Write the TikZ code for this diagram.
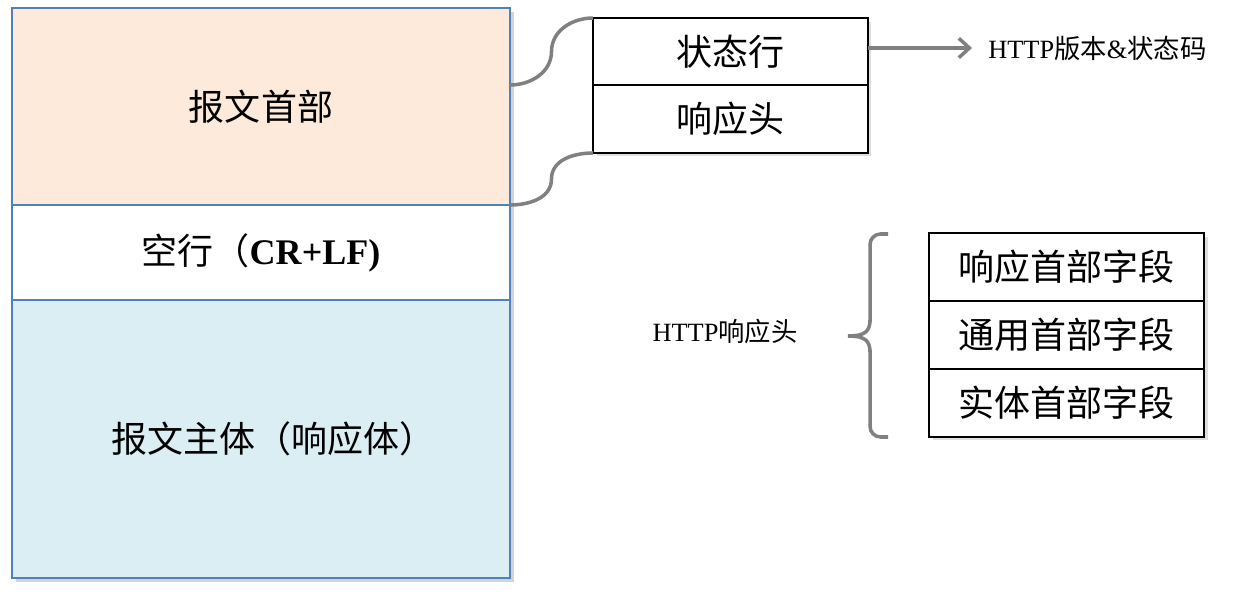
\documentclass[tikz,border=0pt]{standalone}
\usepackage{fontspec}
\setmainfont{Liberation Serif}
\newfontfamily\cjk{Noto Sans CJK SC}
\usetikzlibrary{positioning,calc,shadows,arrows.meta}

\newcommand{\zh}[1]{{\cjk #1}}

\definecolor{headfill}{HTML}{FDEADA}
\definecolor{bodyfill}{HTML}{DAEEF3}
\definecolor{msgblue}{HTML}{4F81BD}
\definecolor{linkgray}{HTML}{808080}

\tikzset{
    part/.style={draw=msgblue, line width=1.2pt, minimum width=9.96cm, inner sep=0pt, outer sep=0pt,
        font=\fontsize{20.5}{24}\selectfont,
        drop shadow={shadow xshift=2.5pt, shadow yshift=-2.5pt, opacity=0.35}},
    field/.style={draw=black, line width=0.8pt, fill=white, minimum width=5.5cm, minimum height=1.36cm,
        inner sep=0pt, outer sep=0pt, font=\fontsize{20.5}{24}\selectfont,
        drop shadow={shadow xshift=2pt, shadow yshift=-2pt, opacity=0.25}},
    link/.style={draw=linkgray, line width=2pt},
    note/.style={font=\fontsize{15}{18}\selectfont, inner sep=0pt},
}

\begin{document}
\begin{tikzpicture}[x=0.02cm, y=-0.02cm]
    \useasboundingbox (0,0) rectangle (1244,595);

    % Message
    \node[part, fill=headfill, minimum height=3.94cm] (head) at (261,106.5) {\zh{报文首部}};
    \node[part, fill=white, minimum height=1.9cm, below=0pt of head] (blank) {\zh{空行（}\textbf{CR+LF)}};
    \node[part, fill=bodyfill, minimum height=5.56cm, below=0pt of blank] (body) {\hspace*{0.5cm}\zh{报文主体（响应体）}};

    % Header parts
    \node[field, minimum height=1.34cm] (status) at (730.5,51.5) {\zh{状态行}};
    \node[field, below=0pt of status] (resp) {\zh{响应头}};

    \coordinate (top) at (head.east |- status.south);
    \draw[link] (top) to[out=0, in=-90] ($(top)!0.5!(status.north west)$)
        to[out=90, in=180] (status.north west);
    \draw[link] (head.south east) to[out=0, in=-90] ($(head.south east)!0.5!(resp.south west)$)
        to[out=90, in=180] (resp.south west);

    % Status line
    \node[note, anchor=west] (ver) at (988,48) {HTTP\zh{版本}\&\zh{状态码}};
    \draw[link, -{Straight Barb[length=6pt, width=11pt]}, shorten >=0.32cm] (status.east |- ver.west) -- (ver.west);

    % Response header fields
    \node[field] (rhead) at (1066.5,267) {\zh{响应首部字段}};
    \node[field, below=0pt of rhead] (ghead) {\zh{通用首部字段}};
    \node[field, below=0pt of ghead] (ehead) {\zh{实体首部字段}};

    % Brace
    \node[note] (hdr) at (725,331) {HTTP\zh{响应头}};
    \draw[link, rounded corners=6] (888,234) -- (870,234) -- (870,322);
    \draw[link] (870,320) .. controls (870,332) and (864,336) .. (848,336)
        .. controls (864,336) and (870,340) .. (870,352);
    \draw[link, rounded corners=6] (870,350) -- (870,437) -- (888,437);
\end{tikzpicture}
\end{document}
